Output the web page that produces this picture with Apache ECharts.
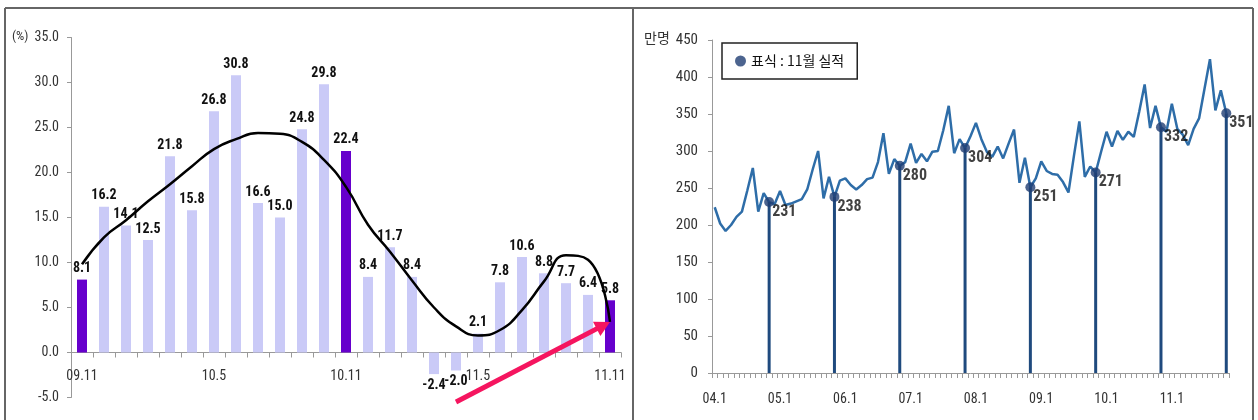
<!DOCTYPE html>
<html><head><meta charset="utf-8">
<script src="https://cdn.jsdelivr.net/npm/echarts@6/dist/echarts.min.js"></script>
<style>html,body{margin:0;padding:0;background:#fff}#c{width:1258px;height:420px}</style>
</head><body><div id="c"></div>
<script>
// ---------- Left chart data ----------
const leftCategories = ['09.11','09.12','10.1','10.2','10.3','10.4','10.5','10.6','10.7','10.8','10.9','10.10','10.11','10.12','11.1','11.2','11.3','11.4','11.5','11.6','11.7','11.8','11.9','11.10','11.11'];
const growthValues = [8.1,16.2,14.1,12.5,21.8,15.8,26.8,30.8,16.6,15.0,24.8,29.8,22.4,8.4,11.7,8.4,-2.4,-2.0,2.1,7.8,10.6,8.8,7.7,6.4,5.8];
const trendValues = [9.8,12.8,14.7,16.8,18.7,20.7,22.6,23.7,24.4,24.3,23.4,21.4,18.4,14.2,11.2,8.0,5.0,2.9,1.9,2.5,4.7,7.9,10.8,10.3,3.4];
const highlightCategories = ['09.11','10.11','11.11'];
const arrowFrom = ['11.4', -5.5];
const arrowTo = ['11.11', 3.4];

// ---------- Right chart data ----------
const years = ['04','05','06','07','08','09','10','11'];
const rightCategories = [];
years.forEach(y => { for (let m = 1; m <= 12; m++) { if (!(y === '11' && m === 12)) rightCategories.push(y + '.' + m); } });
const visitorValues = [
  224,202,192,200,211,218,247,277,218,243,231,228,
  246,227,229,232,235,248,275,300,236,265,238,260,
  263,254,248,254,262,264,285,324,269,289,280,285,
  310,284,296,286,299,300,328,361,297,316,304,320,
  338,316,299,292,306,290,310,329,257,291,251,263,
  286,273,269,268,258,244,293,340,265,279,271,299,
  326,306,327,315,326,319,353,390,331,361,332,326,
  364,330,322,308,330,344,384,424,355,382,351
];
const markerName = '표식 : 11월 실적';

const NARROW = "'Liberation Sans Narrow','Roboto Condensed','DejaVu Sans Condensed','Liberation Sans',sans-serif";
const KR = "'Noto Sans CJK KR','Noto Sans',sans-serif";

const barData = growthValues.map((v, i) => {
  const hi = highlightCategories.includes(leftCategories[i]);
  const d = { value: v, itemStyle: { color: hi ? '#6600CC' : '#CACAF7' } };
  if (v < 0) d.label = { position: 'bottom' };
  return d;
});
const novValues = rightCategories.map((c, i) => c.endsWith('.11') ? visitorValues[i] : '-');

const chart = echarts.init(document.getElementById('c'), null, { renderer: 'canvas' });
chart.setOption({
  animation: false,
  backgroundColor: '#fff',
  grid: [
    { left: 71, top: 37.5, width: 550, height: 360, outerBoundsMode: 'none', containLabel: false },
    { left: 712, top: 40, width: 517, height: 333, outerBoundsMode: 'none', containLabel: false }
  ],
  legend: {
    data: [markerName], left: 722, top: 43, padding: [11, 13],
    borderColor: '#222', borderWidth: 1.5, icon: 'circle', itemWidth: 11, itemHeight: 11,
    selectedMode: false,
    textStyle: { fontFamily: KR, fontSize: 14, color: '#111' }
  },
  xAxis: [
    {
      gridIndex: 0, type: 'category', data: leftCategories, boundaryGap: true, offset: -45,
      axisLine: { onZero: false, lineStyle: { color: '#999', width: 1 } },
      axisTick: { show: true, interval: 0, length: 5, lineStyle: { color: '#999' } },
      axisLabel: { interval: 5, margin: 17, fontSize: 14, color: '#333', fontFamily: NARROW },
      splitLine: { show: false }
    },
    {
      gridIndex: 1, type: 'category', data: rightCategories, boundaryGap: true,
      axisLine: { lineStyle: { color: '#999', width: 1 } },
      axisTick: { show: true, interval: 0, length: 5, lineStyle: { color: '#999' } },
      axisLabel: { interval: 11, margin: 19, fontSize: 14, color: '#333', fontFamily: NARROW },
      splitLine: { show: false }
    }
  ],
  yAxis: [
    {
      gridIndex: 0, type: 'value', min: -5, max: 35, interval: 5,
      axisLine: { show: true, lineStyle: { color: '#999' } },
      axisTick: { show: true, length: 4, lineStyle: { color: '#999' } },
      axisLabel: { formatter: v => v.toFixed(1), fontSize: 14, color: '#333', margin: 12, fontFamily: NARROW },
      splitLine: { show: false }
    },
    {
      gridIndex: 1, type: 'value', min: 0, max: 450, interval: 50,
      axisLine: { show: true, lineStyle: { color: '#999' } },
      axisTick: { show: true, length: 4, lineStyle: { color: '#999' } },
      axisLabel: { fontSize: 15, color: '#333', margin: 14, fontFamily: NARROW },
      splitLine: { show: false }
    }
  ],
  series: [
    {
      name: 'growth', type: 'bar', xAxisIndex: 0, yAxisIndex: 0, data: barData, barWidth: 10,
      label: { show: true, position: 'top', distance: 4, fontSize: 14, fontWeight: 'bold', color: '#111', fontFamily: NARROW,
        formatter: p => p.value.toFixed(1) },
      z: 2
    },
    {
      name: 'trend', type: 'line', xAxisIndex: 0, yAxisIndex: 0, data: trendValues, smooth: 0.5,
      symbol: 'none', lineStyle: { color: '#000', width: 2.5 }, z: 4
    },
    {
      name: 'visitors', type: 'line', xAxisIndex: 1, yAxisIndex: 1, data: visitorValues,
      symbol: 'none', lineStyle: { color: '#2E6DA8', width: 2.5 }, z: 3
    },
    {
      name: 'stems', type: 'bar', xAxisIndex: 1, yAxisIndex: 1, data: novValues, barWidth: 3,
      itemStyle: { color: '#1F4A7E' }, z: 4
    },
    {
      name: markerName, type: 'scatter', xAxisIndex: 1, yAxisIndex: 1, data: novValues,
      symbol: 'circle', symbolSize: 10, itemStyle: { color: '#1F3D73' }, z: 5,
      label: { show: true, position: 'right', offset: [-7, 10], fontSize: 16, fontWeight: 'bold', color: '#111', fontFamily: NARROW }
    }
  ]
});

// Annotations: frame, axis unit labels, arrow (arrow ends from data coordinates)
const p1 = chart.convertToPixel({ gridIndex: 0 }, arrowFrom);
const p2 = chart.convertToPixel({ gridIndex: 0 }, arrowTo);
const dx = p2[0] - p1[0], dy = p2[1] - p1[1];
const len = Math.sqrt(dx * dx + dy * dy);
const ux = dx / len, uy = dy / len, px = -uy, py = ux;
const headLen = 15, headW = 8;
const bx = p2[0] - ux * headLen, by = p2[1] - uy * headLen;
const arrowColor = '#F5155F';

chart.setOption({
  graphic: [
    { type: 'line', shape: { x1: 5, y1: 8, x2: 1253, y2: 8 }, style: { stroke: '#666', lineWidth: 2 }, silent: true },
    { type: 'line', shape: { x1: 5, y1: 8, x2: 5, y2: 420 }, style: { stroke: '#666', lineWidth: 2 }, silent: true },
    { type: 'line', shape: { x1: 633, y1: 8, x2: 633, y2: 420 }, style: { stroke: '#666', lineWidth: 2 }, silent: true },
    { type: 'line', shape: { x1: 1253, y1: 8, x2: 1253, y2: 420 }, style: { stroke: '#666', lineWidth: 2 }, silent: true },
    { type: 'text', left: 12, top: 30, style: { text: '(%)', fill: '#333', font: '13px ' + NARROW } },
    { type: 'text', left: 644, top: 31, style: { text: '만명', fill: '#333', font: '14px ' + KR } },
    { type: 'line', shape: { x1: p1[0], y1: p1[1], x2: bx + ux * 2, y2: by + uy * 2 }, style: { stroke: arrowColor, lineWidth: 5 }, z: 10, silent: true },
    { type: 'polygon', shape: { points: [[p2[0], p2[1]], [bx + px * headW, by + py * headW], [bx - px * headW, by - py * headW]] }, style: { fill: arrowColor }, z: 10, silent: true }
  ]
});
</script>
</body></html>
